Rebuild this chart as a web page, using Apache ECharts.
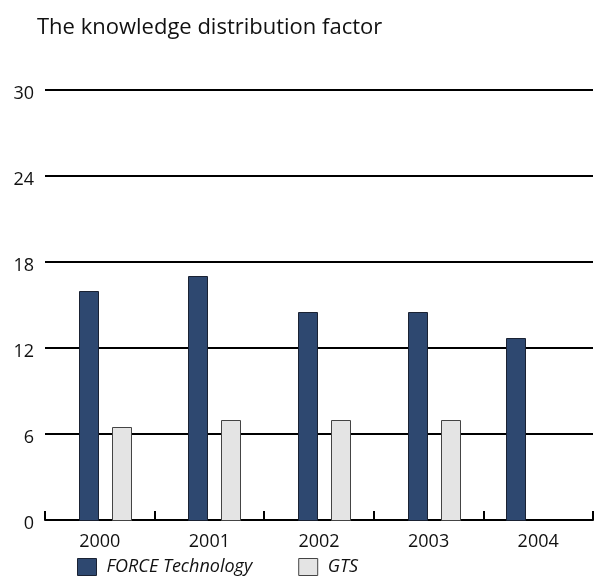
<!DOCTYPE html>
<html>
<head>
<meta charset="utf-8">
<script src="https://cdn.jsdelivr.net/npm/echarts@6/dist/echarts.min.js"></script>
<style>
  html, body { margin: 0; padding: 0; background: #fff; }
  #chart { width: 605px; height: 580px; }
</style>
</head>
<body>
<div id="chart"></div>
<script>
// Knowledge distribution factor per year
const years = ['2000', '2001', '2002', '2003', '2004'];
const forceValues = [16, 17, 14.5, 14.5, 12.7];
const gtsValues = [6.5, 7, 7, 7, null];
const yTicks = { min: 0, max: 30, step: 6 };

const FONT = '"Open Sans", "Noto Sans", sans-serif';
const BAR_W = 20;

// Bars are drawn side by side with a fixed pixel offset from the category centre.
// A year with only one company reported keeps its bar in the left slot.
function barRenderer(offset, loneOffset, partner) {
  return function (params, api) {
    const idx = api.value(0);
    const val = api.value(1);
    if (val == null || isNaN(val)) return null;
    const top = api.coord([idx, val]);
    const base = api.coord([idx, 0]);
    const off = (partner && partner[idx] == null) ? loneOffset : offset;
    const x = Math.round(top[0] + off - BAR_W / 2) + 0.5;
    return {
      type: 'rect',
      shape: { x: x, y: Math.round(top[1]) + 0.5, width: BAR_W - 1, height: Math.round(base[1]) - Math.round(top[1]) },
      style: api.style()
    };
  };
}

const forceData = forceValues.map((v, i) => [i, v]);
const gtsData = gtsValues.map((v, i) => [i, v]).filter(d => d[1] != null);

const chart = echarts.init(document.getElementById('chart'), null, { renderer: 'canvas' });
chart.setOption({
  backgroundColor: '#ffffff',
  animation: false,
  title: {
    text: 'The knowledge distribution factor',
    left: 37,
    top: 17,
    padding: 0,
    textStyle: { fontFamily: FONT, fontSize: 22, fontWeight: 'normal', color: '#111' }
  },
  legend: {
    left: 77,
    top: 558,
    padding: 0,
    itemWidth: 19,
    itemHeight: 17,
    itemGap: 46,
    icon: 'rect',
    textStyle: { fontFamily: FONT, fontSize: 18, fontStyle: 'italic', color: '#111', padding: [0, 0, 0, 5] },
    data: [
      { name: 'FORCE Technology', itemStyle: { color: '#2e4870', borderColor: '#1a2233', borderWidth: 1 } },
      { name: 'GTS', itemStyle: { color: '#e4e4e4', borderColor: '#444', borderWidth: 1 } }
    ]
  },
  grid: { left: 45, right: 12, top: 90, bottom: 60, containLabel: false },
  xAxis: {
    type: 'category',
    data: years,
    boundaryGap: true,
    axisLine: { show: true, lineStyle: { color: '#000', width: 2 } },
    axisTick: { show: true, inside: true, length: 9, lineStyle: { color: '#000', width: 2 } },
    axisLabel: { fontFamily: FONT, fontSize: 18, color: '#111', margin: 13 },
    splitLine: { show: false }
  },
  yAxis: {
    type: 'value',
    min: yTicks.min,
    max: yTicks.max,
    interval: yTicks.step,
    axisLine: { show: false },
    axisTick: { show: false },
    axisLabel: {
      margin: 11,
      formatter: '{v|{value}}',
      rich: { v: { fontFamily: FONT, fontSize: 18, color: '#111', padding: [7, 0, 0, 0] } }
    },
    splitLine: { show: true, lineStyle: { color: '#000', width: 2 } }
  },
  series: [
    {
      name: 'FORCE Technology',
      type: 'custom',
      renderItem: barRenderer(-11, -22, gtsValues),
      encode: { x: 0, y: 1 },
      itemStyle: { color: '#2e4870', borderColor: '#1a2233', borderWidth: 1 },
      data: forceData,
      z: 5
    },
    {
      name: 'GTS',
      type: 'custom',
      renderItem: barRenderer(22, 22, null),
      encode: { x: 0, y: 1 },
      itemStyle: { color: '#e4e4e4', borderColor: '#444', borderWidth: 1 },
      data: gtsData,
      z: 5
    }
  ]
});
</script>
</body>
</html>
